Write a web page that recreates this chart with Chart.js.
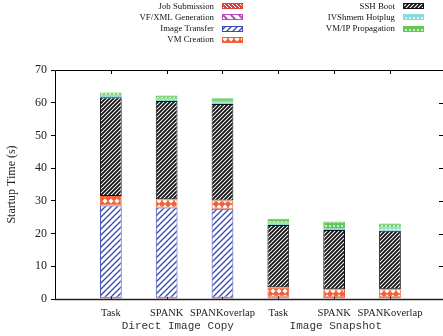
<!DOCTYPE html>
<html>
<head>
<meta charset="utf-8">
<script src="https://cdn.jsdelivr.net/npm/chart.js@4.4.1/dist/chart.umd.min.js"></script>
<style>
html,body{margin:0;padding:0;background:#fff;}
#wrap{width:443px;height:336px;position:relative;}
</style>
</head>
<body>
<div id="wrap"><canvas id="c" width="443" height="336"></canvas></div>
<script>
// ---- data ----
const categories = ['Task', 'SPANK', 'SPANKoverlap', 'Task', 'SPANK', 'SPANKoverlap'];
const groups = ['Direct Image Copy', 'Image Snapshot'];
const seriesNames = ['Job Submission', 'VF/XML Generation', 'Image Transfer', 'VM Creation', 'SSH Boot', 'IVShmem Hotplug', 'VM/IP Propagation'];
const jobSubmission = [0.3, 0.3, 0.3, 0.2, 0.2, 0.2];
const vfXmlGeneration = [0.1, 0.1, 0.1, 0.3, 0.1, 0.1];
const imageTransfer = [28.2, 27.6, 27.2, 0.2, 0.2, 0.2];
const vmCreation = [2.9, 2.5, 2.5, 2.9, 2.5, 2.5];
const sshBoot = [30.2, 30.0, 29.5, 19.0, 18.1, 17.9];
const ivshmemHotplug = [0.4, 0.7, 0.7, 0.7, 0.6, 0.9];
const vmIpPropagation = [1.0, 1.0, 1.1, 1.2, 2.0, 1.3];
const yTicks = [0, 10, 20, 30, 40, 50, 60, 70];

// ---- patterns ----
function tile(size, draw) {
  const c = document.createElement('canvas');
  c.width = size; c.height = size;
  const g = c.getContext('2d');
  draw(g, size);
  return document.getElementById('c').getContext('2d').createPattern(c, 'repeat');
}
function diag(g, s, color, w, dir) {
  g.strokeStyle = color; g.lineWidth = w; g.beginPath();
  if (dir === '/') {
    g.moveTo(-1, s + 1); g.lineTo(s + 1, -1);
    g.moveTo(-1, 1); g.lineTo(1, -1);
    g.moveTo(s - 1, s + 1); g.lineTo(s + 1, s - 1);
  } else {
    g.moveTo(-1, -1); g.lineTo(s + 1, s + 1);
    g.moveTo(-1, s - 1); g.lineTo(1, s + 1);
    g.moveTo(s - 1, -1); g.lineTo(s + 1, 1);
  }
  g.stroke();
}
const colors = ['#e2403a', '#c048c0', '#3b4cb5', '#f0613a', '#111111', '#86dcdc', '#62c852'];
const patterns = [
  tile(4, (g, s) => { g.fillStyle = colors[0]; g.fillRect(0, 0, s, s); diag(g, s, '#fff', 1, '\\'); }),
  tile(8, (g, s) => { g.fillStyle = '#fff'; g.fillRect(0, 0, s, s); diag(g, s, colors[1], 2, '\\'); }),
  tile(6, (g, s) => { g.fillStyle = '#fff'; g.fillRect(0, 0, s, s); diag(g, s, colors[2], 1.4, '/'); }),
  tile(6, (g, s) => { g.fillStyle = colors[3]; g.fillRect(0, 0, s, s); g.fillStyle = '#fff'; g.beginPath(); g.moveTo(3, 0.5); g.lineTo(5.5, 3); g.lineTo(3, 5.5); g.lineTo(0.5, 3); g.closePath(); g.fill(); }),
  tile(4, (g, s) => { g.fillStyle = '#fff'; g.fillRect(0, 0, s, s); diag(g, s, colors[4], 1.8, '/'); }),
  tile(4, (g, s) => { g.fillStyle = colors[5]; g.fillRect(0, 0, s, s); g.fillStyle = '#fff'; g.beginPath(); g.arc(2, 2, 0.9, 0, Math.PI * 2); g.fill(); }),
  tile(4, (g, s) => { g.fillStyle = colors[6]; g.fillRect(0, 0, s, s); g.fillStyle = '#fff'; g.beginPath(); g.arc(2, 2, 0.9, 0, Math.PI * 2); g.fill(); })
];

const seriesValues = [jobSubmission, vfXmlGeneration, imageTransfer, vmCreation, sshBoot, ivshmemHotplug, vmIpPropagation];
const datasets = seriesValues.map((vals, k) => ({
  label: seriesNames[k],
  data: vals.map((v, i) => ({ x: i + 1, y: v })),
  backgroundColor: patterns[k],
  borderColor: colors[k],
  borderWidth: 1,
  borderSkipped: false,
  barPercentage: 0.41,
  categoryPercentage: 1.0
}));

const SERIF = '"Liberation Serif", "Times New Roman", serif';
const MONO = '"Liberation Mono", "Courier New", monospace';

const extras = {
  id: 'extras',
  beforeDatasetsDraw(chart) {
    const ctx = chart.ctx, a = chart.chartArea, x = chart.scales.x, y = chart.scales.y;
    ctx.save();
    ctx.strokeStyle = '#000'; ctx.lineWidth = 1;
    ctx.beginPath();
    for (let i = 1; i <= categories.length; i++) {
      const px = Math.round(x.getPixelForValue(i)) + 0.5;
      ctx.moveTo(px, a.top); ctx.lineTo(px, a.top + 4);
      ctx.moveTo(px, a.bottom); ctx.lineTo(px, a.bottom - 4);
    }
    yTicks.forEach(v => {
      const py = Math.round(y.getPixelForValue(v)) + 0.5;
      ctx.moveTo(a.right, py); ctx.lineTo(a.right - 4, py);
    });
    ctx.stroke();
    ctx.restore();
  },
  afterDatasetsDraw(chart) {
    const ctx = chart.ctx, a = chart.chartArea, x = chart.scales.x;
    ctx.save();
    ctx.strokeStyle = '#000'; ctx.lineWidth = 1;
    ctx.beginPath();
    ctx.moveTo(Math.round(a.left) + 0.5, a.bottom);
    ctx.lineTo(Math.round(a.left) + 0.5, Math.round(a.top) + 0.5);
    ctx.lineTo(a.right + 2, Math.round(a.top) + 0.5);
    ctx.stroke();
    ctx.strokeStyle = '#222'; ctx.lineWidth = 1.6;
    ctx.beginPath();
    ctx.moveTo(a.left, Math.round(a.bottom) + 0.5);
    ctx.lineTo(a.right + 2, Math.round(a.bottom) + 0.5);
    ctx.stroke();
    // group labels
    ctx.fillStyle = '#333';
    ctx.font = '11px ' + MONO;
    ctx.textAlign = 'center'; ctx.textBaseline = 'middle';
    ctx.fillText(groups[0], x.getPixelForValue(2.2), 326);
    ctx.fillText(groups[1], x.getPixelForValue(5.03), 326);
    // legend
    ctx.font = '8.8px ' + SERIF;
    ctx.textAlign = 'right';
    chart.data.datasets.forEach((ds, k) => {
      const col = k < 4 ? 0 : 1;
      const row = k < 4 ? k : k - 4;
      const tx = col === 0 ? 214 : 395;
      const sx = col === 0 ? 222 : 403;
      const cy = 6.2 + row * 11.2;
      ctx.fillStyle = '#111';
      ctx.fillText(ds.label, tx, cy);
      ctx.fillStyle = ds.backgroundColor;
      ctx.fillRect(sx, Math.round(cy - 3), 21, 6);
      ctx.strokeStyle = ds.borderColor; ctx.lineWidth = 1;
      ctx.strokeRect(sx + 0.5, Math.round(cy - 3) + 0.5, 20, 5);
    });
    ctx.restore();
  }
};

new Chart(document.getElementById('c'), {
  type: 'bar',
  data: { datasets },
  options: {
    responsive: false,
    animation: false,
    devicePixelRatio: 1,
    layout: { padding: { top: 70, right: 0, left: 0, bottom: 0 } },
    plugins: { legend: { display: false }, tooltip: { enabled: false } },
    scales: {
      x: {
        type: 'linear', stacked: true, min: 0, max: 6.95, offset: false,
        grid: { display: false, offset: false }, border: { display: false },
        ticks: {
          stepSize: 1, autoSkip: false, maxRotation: 0, padding: 0,
          color: '#222', font: { family: SERIF, size: 10.5 },
          callback: v => (Number.isInteger(v) && categories[v - 1]) ? categories[v - 1] : ''
        },
        afterFit: s => { s.height = 37; }
      },
      y: {
        stacked: true, min: 0, max: 70,
        grid: { drawOnChartArea: false, tickLength: 4, color: '#000' },
        border: { display: false },
        ticks: { stepSize: 10, padding: 4, color: '#222', font: { family: SERIF, size: 12 } },
        title: { display: true, text: 'Startup Time (s)', color: '#222', font: { family: SERIF, size: 12 }, padding: { top: 5, bottom: 0 } },
        afterFit: s => { s.width = 55; }
      }
    }
  },
  plugins: [extras]
});
</script>
</body>
</html>
